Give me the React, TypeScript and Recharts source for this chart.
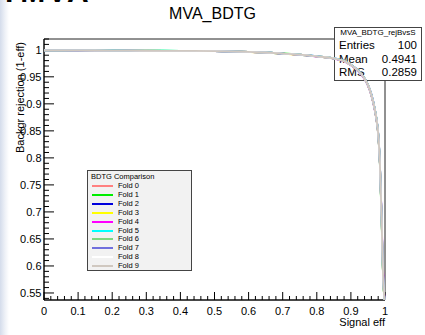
import { LineChart, Line, XAxis, YAxis, ReferenceArea } from "recharts";

// signal efficiency points shared by every fold
const signalEff = [
  0, 0.1, 0.2, 0.3, 0.4, 0.5, 0.6, 0.65, 0.7, 0.75, 0.8, 0.85, 0.88, 0.9,
  0.92, 0.94, 0.95, 0.96, 0.97, 0.975, 0.98, 0.985, 0.99, 0.993, 0.996, 1.0,
];

// background rejection per fold (folds nearly overlap)
const fold0 = [0.999, 0.9988, 0.9986, 0.9983, 0.998, 0.9975, 0.996, 0.995, 0.993, 0.991, 0.988, 0.984, 0.979, 0.972, 0.962, 0.947, 0.935, 0.917, 0.89, 0.872, 0.845, 0.79, 0.69, 0.61, 0.56, 0.53];
const fold1 = [0.999, 0.9989, 0.9987, 0.9984, 0.998, 0.9974, 0.996, 0.995, 0.9932, 0.9908, 0.9878, 0.9838, 0.9788, 0.9718, 0.9615, 0.9465, 0.934, 0.916, 0.889, 0.87, 0.843, 0.787, 0.686, 0.607, 0.558, 0.53];
const fold2 = [0.999, 0.9988, 0.9985, 0.9982, 0.9979, 0.9975, 0.9962, 0.9952, 0.9931, 0.9911, 0.9882, 0.9842, 0.9792, 0.9722, 0.9625, 0.9475, 0.9355, 0.918, 0.891, 0.873, 0.847, 0.792, 0.692, 0.612, 0.562, 0.53];
const fold3 = [0.999, 0.9988, 0.9986, 0.9983, 0.998, 0.9976, 0.9961, 0.9949, 0.9929, 0.9909, 0.9879, 0.9839, 0.9789, 0.9719, 0.9618, 0.9468, 0.9348, 0.9165, 0.8895, 0.8715, 0.8445, 0.789, 0.689, 0.609, 0.559, 0.53];
const fold4 = [0.999, 0.9987, 0.9985, 0.9982, 0.9979, 0.9974, 0.9959, 0.9948, 0.9928, 0.9906, 0.9876, 0.9836, 0.9786, 0.9715, 0.9612, 0.946, 0.9338, 0.9155, 0.888, 0.87, 0.843, 0.788, 0.695, 0.618, 0.565, 0.53];
const fold5 = [0.999, 0.9989, 0.9987, 0.9984, 0.9981, 0.9976, 0.9961, 0.9951, 0.9931, 0.9912, 0.9883, 0.9843, 0.9793, 0.9723, 0.9623, 0.9473, 0.9353, 0.9175, 0.8905, 0.8725, 0.8455, 0.7905, 0.6905, 0.6105, 0.5605, 0.53];
const fold6 = [0.999, 0.9988, 0.9986, 0.9983, 0.998, 0.9975, 0.996, 0.995, 0.993, 0.991, 0.988, 0.9841, 0.9791, 0.9721, 0.9621, 0.9471, 0.9351, 0.917, 0.8902, 0.8722, 0.8452, 0.7902, 0.6895, 0.6095, 0.5595, 0.53];
const fold7 = [0.999, 0.9988, 0.9986, 0.9983, 0.998, 0.9975, 0.996, 0.995, 0.993, 0.9909, 0.9879, 0.9839, 0.9789, 0.9719, 0.9619, 0.9469, 0.9349, 0.9168, 0.8898, 0.8718, 0.8448, 0.7898, 0.6898, 0.6098, 0.5598, 0.53];
const fold8 = [0.999, 0.9988, 0.9986, 0.9983, 0.998, 0.9975, 0.996, 0.995, 0.993, 0.991, 0.988, 0.984, 0.979, 0.972, 0.962, 0.947, 0.935, 0.917, 0.89, 0.872, 0.845, 0.79, 0.69, 0.61, 0.56, 0.53];
const fold9 = [0.999, 0.9988, 0.9986, 0.9983, 0.998, 0.9975, 0.996, 0.995, 0.993, 0.991, 0.988, 0.984, 0.979, 0.972, 0.962, 0.947, 0.935, 0.917, 0.89, 0.872, 0.845, 0.79, 0.69, 0.61, 0.56, 0.53];

const folds = [fold0, fold1, fold2, fold3, fold4, fold5, fold6, fold7, fold8, fold9];
const foldNames = ["Fold 0", "Fold 1", "Fold 2", "Fold 3", "Fold 4", "Fold 5", "Fold 6", "Fold 7", "Fold 8", "Fold 9"];
const foldColors = ["#ff8080", "#00ee00", "#0000dd", "#ffff00", "#ff00ff", "#00ffff", "#80d880", "#7070dd", "#ffffff", "#d0c8c0"];

const xMajorTicks = [0, 0.1, 0.2, 0.3, 0.4, 0.5, 0.6, 0.7, 0.8, 0.9, 1];
const yMajorTicks = [0.55, 0.6, 0.65, 0.7, 0.75, 0.8, 0.85, 0.9, 0.95, 1];
const yDomain = [0.537, 1.02];

const statsRows = [
  ["Entries", "100"],
  ["Mean", "0.4941"],
  ["RMS", "0.2859"],
];

const FONT = "'Liberation Sans', Arial, Helvetica, sans-serif";

const xTicks: number[] = [];
for (let i = 0; i <= 50; i++) xTicks.push(Number((i * 0.02).toFixed(2)));
const yTicks: number[] = [];
for (let i = 54; i <= 102; i++) yTicks.push(Number((i * 0.01).toFixed(2)));

const isMajor = (v: number, majors: number[]) =>
  majors.some((m) => Math.abs(m - v) < 1e-6);

const fmt = (v: number) => String(Number(v.toFixed(2)));

const data = signalEff.map((x, i) => {
  const row: Record<string, number> = { x };
  folds.forEach((f, k) => (row["f" + k] = f[i]));
  return row;
});

const W = 425;
const H = 335;
const margin = { top: 39, right: 40, bottom: 0, left: 0 };

function XTick(props: any) {
  const { x, y, payload } = props;
  const major = isMajor(payload.value, xMajorTicks);
  return (
    <g>
      <line x1={x} x2={x} y1={y} y2={y - (major ? 8 : 4)} stroke="#000" />
      {major && (
        <text x={x} y={y + 15} textAnchor="middle" fontSize={11} fontFamily={FONT} fill="#000">
          {fmt(payload.value)}
        </text>
      )}
    </g>
  );
}

function YTick(props: any) {
  const { x, y, payload } = props;
  const major = isMajor(payload.value, yMajorTicks);
  return (
    <g>
      <line x1={x} x2={x + (major ? 10 : 5)} y1={y} y2={y} stroke="#000" />
      {major && (
        <text x={x - 2.5} y={y + 4} textAnchor="end" fontSize={11} fontFamily={FONT} fill="#000">
          {fmt(payload.value)}
        </text>
      )}
    </g>
  );
}

function Axes() {
  return (
    <LineChart width={W} height={H} data={data} margin={margin}>
      <XAxis
        dataKey="x"
        type="number"
        domain={[0, 1]}
        ticks={xTicks}
        interval={0}
        tickSize={0}
        tickMargin={0}
        tickLine={false}
        tick={<XTick />}
        height={35}
        axisLine={{ stroke: "#000" }}
      />
      <YAxis
        type="number"
        domain={yDomain}
        allowDataOverflow
        ticks={yTicks}
        interval={0}
        tickSize={0}
        tickMargin={0}
        tickLine={false}
        tick={<YTick />}
        width={44}
        axisLine={{ stroke: "#000" }}
      />
      <ReferenceArea x1={0} x2={1} y1={yDomain[0]} y2={yDomain[1]} fill="none" fillOpacity={0} stroke="#222" strokeWidth={1} />
    </LineChart>
  );
}

function Curves() {
  return (
    <LineChart width={W} height={H} data={data} margin={margin}>
      <XAxis dataKey="x" type="number" domain={[0, 1]} height={35} tick={false} axisLine={false} tickLine={false} />
      <YAxis type="number" domain={yDomain} allowDataOverflow width={44} tick={false} axisLine={false} tickLine={false} />
      {folds.map((_, k) => (
        <Line
          key={k}
          dataKey={"f" + k}
          type="monotone"
          stroke={foldColors[k]}
          strokeWidth={1.8}
          dot={false}
          isAnimationActive={false}
        />
      ))}
    </LineChart>
  );
}

export default function App() {
  const abs = { position: "absolute" as const };
  return (
    <div
      style={{
        position: "fixed",
        left: 0,
        top: 0,
        width: W,
        height: H,
        overflow: "hidden",
        fontFamily: FONT,
        background: "linear-gradient(to right, #d4dceb 0px, #eef1f7 5px, #ffffff 9px)",
      }}
    >
      <div style={{ ...abs, left: 0, top: -25, fontSize: 30, fontWeight: "bold", color: "#000", letterSpacing: 2 }}>
        TMVA
      </div>
      <div style={{ ...abs, left: 0, top: 0 }}>
        <Axes />
      </div>
      <div style={{ ...abs, left: 0, top: 5, width: W, textAlign: "center", fontSize: 16 }}>MVA_BDTG</div>
      <div
        style={{
          ...abs,
          left: 334,
          top: 27,
          width: 86,
          height: 10,
          border: "1px solid #444",
          background: "#fff",
          fontSize: 8,
          lineHeight: "10px",
          textAlign: "center",
        }}
      >
        MVA_BDTG_rejBvsS
      </div>
      <div
        style={{
          ...abs,
          left: 334,
          top: 38,
          width: 86,
          height: 42,
          border: "1px solid #444",
          borderTop: "none",
          background: "#fff",
          fontSize: 11.5,
        }}
      >
        {statsRows.map(([k, v], i) => (
          <div key={k} style={{ ...abs, left: 4, right: 4, top: 1 + i * 13.5, display: "flex", justifyContent: "space-between", lineHeight: "13px" }}>
            <span>{k}</span>
            <span>{v}</span>
          </div>
        ))}
      </div>
      <div
        style={{
          ...abs,
          left: 87,
          top: 170,
          width: 103,
          height: 99,
          border: "1px solid #444",
          background: "#f2f2f2",
          fontSize: 7.5,
        }}
      >
        <div style={{ ...abs, left: 3, top: 1, lineHeight: "9px" }}>BDTG Comparison</div>
        {foldNames.map((n, i) => (
          <div key={n} style={{ ...abs, left: 4, top: 10 + i * 8.9, height: 9, width: 80 }}>
            <div style={{ ...abs, left: 0, top: 4, width: 21, height: 2, background: foldColors[i] }} />
            <div style={{ ...abs, left: 26, top: 0, lineHeight: "9px" }}>{n}</div>
          </div>
        ))}
      </div>
      <div style={{ ...abs, left: 0, top: 0 }}>
        <Curves />
      </div>
      <div style={{ ...abs, right: W - 385, top: 316, fontSize: 11, lineHeight: "12px" }}>Signal eff</div>
      <div
        style={{
          ...abs,
          left: 20,
          top: 42,
          fontSize: 11,
          lineHeight: "12px",
          whiteSpace: "nowrap",
          transformOrigin: "0 0",
          transform: "rotate(-90deg) translate(-100%, -50%)",
        }}
      >
        Backgr rejection (1-eff)
      </div>
    </div>
  );
}
